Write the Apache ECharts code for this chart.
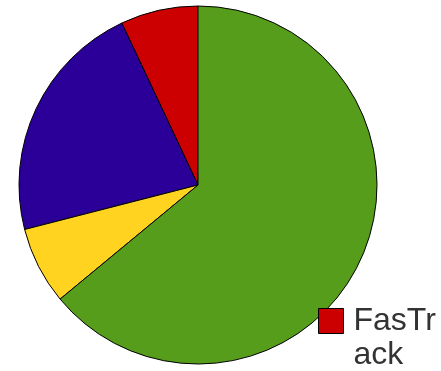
<!DOCTYPE html>
<html>
<head>
<meta charset="utf-8">
<script src="https://cdn.jsdelivr.net/npm/echarts@6/dist/echarts.min.js"></script>
<style>html,body{margin:0;padding:0;background:#fff;}#c{width:441px;height:371px;}</style>
</head>
<body>
<div id="c"></div>
<script>
var categories = ['FasTrack', 'Series B', 'Series C', 'Series D'];
var values = [7, 22, 7, 64];
var colors = ['#cc0000', '#2a0099', '#ffd320', '#579d1c'];
var legendItems = ['FasTrack'];

var chart = echarts.init(document.getElementById('c'), null, {renderer: 'canvas'});
var data = categories.map(function (n, i) {
  return {name: n, value: values[i], itemStyle: {color: colors[i]}};
});
chart.setOption({
  animation: false,
  backgroundColor: '#ffffff',
  legend: {
    data: legendItems,
    orient: 'vertical',
    left: 318,
    top: 270,
    padding: 0,
    itemWidth: 25,
    itemHeight: 25,
    icon: 'rect',
    selectedMode: false,
    formatter: function (n) { return '\n' + n; },
    itemStyle: {borderColor: '#000', borderWidth: 1},
    textStyle: {
      fontSize: 32,
      fontFamily: 'Liberation Sans',
      color: '#333',
      width: 90,
      overflow: 'break',
      lineHeight: 34,
      padding: [0, 0, 0, 5]
    }
  },
  series: [{
    type: 'pie',
    center: [198, 185],
    radius: 179,
    startAngle: 90,
    clockwise: false,
    label: {show: false},
    labelLine: {show: false},
    emphasis: {disabled: true},
    itemStyle: {borderColor: '#000', borderWidth: 1},
    data: data
  }]
});
</script>
</body>
</html>
